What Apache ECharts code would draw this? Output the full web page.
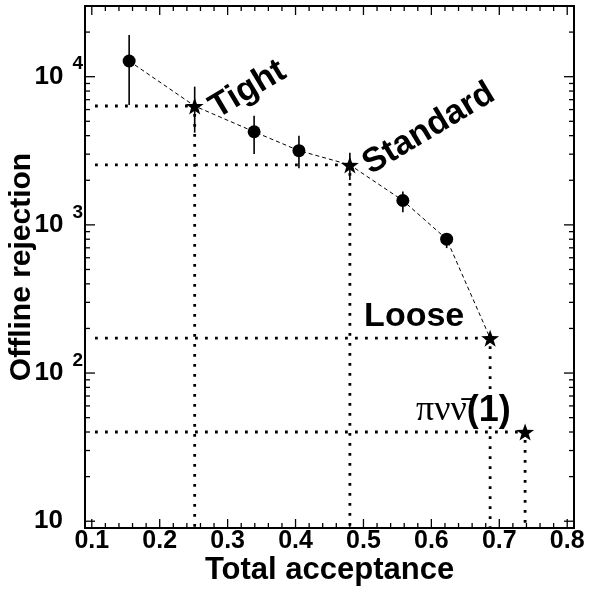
<!DOCTYPE html>
<html>
<head>
<meta charset="utf-8">
<script src="https://cdn.jsdelivr.net/npm/echarts@6/dist/echarts.min.js"></script>
<style>
  html, body { margin: 0; padding: 0; background: #fff; }
  #chart { width: 589px; height: 590px; }
</style>
</head>
<body>
<div id="chart"></div>
<script>
// Offline cut scan: acceptance vs background rejection
const scanAcc   = [0.155, 0.339, 0.405, 0.558, 0.6225];
const scanRej   = [12760, 4250, 3170, 1460, 801];
const scanErrLo = [6440, 3010, 2410, 1218, 697];
const scanErrHi = [19100, 5440, 4000, 1677, 879];

// Named working points
const cutNames  = ['Tight', 'Standard', 'Loose', 'πνν\u0304(1)'];
const cutAcc    = [0.2515, 0.48, 0.6865, 0.738];
const cutRej    = [6340, 2540, 172, 40];
const cutErrLo  = [4190, 2010, null, null];
const cutErrHi  = [8570, 3070, null, null];
const cutOnCurve = [true, true, true, false];

// Axis ticks
const xTickLabels = [0.1, 0.2, 0.3, 0.4, 0.5, 0.6, 0.7, 0.8];
const xMinorTicks = [0.12, 0.14, 0.16, 0.18, 0.22, 0.24, 0.26, 0.28,
                     0.32, 0.34, 0.36, 0.38, 0.42, 0.44, 0.46, 0.48,
                     0.52, 0.54, 0.56, 0.58, 0.62, 0.64, 0.66, 0.68,
                     0.72, 0.74, 0.76, 0.78];
const yTickLabels = [10, 100, 1000, 10000];
const yMinorTicks = [20, 30, 40, 50, 60, 70, 80, 90,
                     200, 300, 400, 500, 600, 700, 800, 900,
                     2000, 3000, 4000, 5000, 6000, 7000, 8000, 9000,
                     20000, 30000];

const X_MIN = 0.09, X_MAX = 0.81;
const Y_MIN = 9, Y_MAX = 30000;
const FONT = '"Liberation Sans", Arial, Helvetica, sans-serif';

// Dashed curve through the scan points and the first three working points
const curve = scanAcc.map((x, i) => [x, scanRej[i]])
  .concat(cutAcc.map((x, i) => [x, cutRej[i], i]).filter(p => cutOnCurve[p[2]]).map(p => [p[0], p[1]]))
  .sort((a, b) => a[0] - b[0]);

const errData = scanAcc.map((x, i) => [x, scanRej[i], scanErrLo[i], scanErrHi[i]])
  .concat(cutAcc.map((x, i) => [x, cutRej[i], cutErrLo[i], cutErrHi[i]]).filter(d => d[2] != null));

const STAR = 'path://M0,-10 L2.35,-3.24 L9.51,-3.09 L3.8,1.24 L5.88,8.09 L0,4 L-5.88,8.09 L-3.8,1.24 L-9.51,-3.09 L-2.35,-3.24 Z';

function tickSeries(values, dir, len) {
  return {
    type: 'custom', silent: true, clip: false, z: 5,
    data: values.map(v => dir === 'x' ? [v, Y_MIN] : [X_MIN, v]),
    renderItem(params, api) {
      const cs = params.coordSys;
      const p = api.coord([api.value(0), api.value(1)]);
      const style = { stroke: '#000', lineWidth: 1.3 };
      if (dir === 'x') {
        const yb = cs.y + cs.height, yt = cs.y;
        return { type: 'group', children: [
          { type: 'line', shape: { x1: p[0], y1: yb, x2: p[0], y2: yb - len }, style },
          { type: 'line', shape: { x1: p[0], y1: yt, x2: p[0], y2: yt + len }, style }
        ]};
      }
      const xl = cs.x, xr = cs.x + cs.width;
      return { type: 'group', children: [
        { type: 'line', shape: { x1: xl, y1: p[1], x2: xl + len, y2: p[1] }, style },
        { type: 'line', shape: { x1: xr, y1: p[1], x2: xr - len, y2: p[1] }, style }
      ]};
    }
  };
}

const chart = echarts.init(document.getElementById('chart'), null, { renderer: 'canvas' });

const option = {
  animation: false,
  backgroundColor: '#fff',
  textStyle: { fontFamily: FONT },
  grid: { left: 85, top: 6, width: 489, height: 522, show: true,
          outerBoundsMode: 'none', containLabel: false,
          borderColor: '#000', borderWidth: 2, backgroundColor: 'transparent' },
  xAxis: {
    type: 'value', min: X_MIN, max: X_MAX, splitNumber: 7,
    name: 'Total acceptance', nameLocation: 'middle', nameGap: 27, nameMoveOverlap: false,
    nameTextStyle: { fontFamily: FONT, fontWeight: 'bold', fontSize: 31, color: '#000' },
    axisLine: { show: false }, axisTick: { show: false }, splitLine: { show: false },
    axisLabel: {
      margin: 1, color: '#000', fontFamily: FONT, fontWeight: 'bold', fontSize: 25,
      showMinLabel: false, showMaxLabel: false,
      formatter: v => {
        const hit = xTickLabels.find(t => Math.abs(t - v) < 1e-6);
        return hit === undefined ? '' : hit.toFixed(1);
      }
    }
  },
  yAxis: {
    type: 'log', logBase: 10, min: Y_MIN, max: Y_MAX,
    name: 'Offline rejection', nameLocation: 'middle', nameRotate: 90, nameGap: 48, nameMoveOverlap: false,
    nameTextStyle: { fontFamily: FONT, fontWeight: 'bold', fontSize: 30, color: '#000' },
    axisLine: { show: false }, axisTick: { show: false }, splitLine: { show: false },
    axisLabel: {
      margin: 2, color: '#000',
      showMinLabel: false, showMaxLabel: false,
      formatter: v => {
        const hit = yTickLabels.find(t => Math.abs(t - v) / t < 1e-6);
        if (hit === undefined) return '';
        const e = Math.round(Math.log10(hit));
        return e === 1 ? '{c|10}' : '{a|10}{s|' + e + '}';
      },
      rich: {
        a: { fontFamily: FONT, fontWeight: 'bold', fontSize: 26, color: '#000', lineHeight: 44, verticalAlign: 'middle' },
        c: { fontFamily: FONT, fontWeight: 'bold', fontSize: 26, color: '#000', lineHeight: 44, verticalAlign: 'middle', padding: [0, 20, 0, 0] },
        s: { fontFamily: FONT, fontWeight: 'bold', fontSize: 19, color: '#000', lineHeight: 19, verticalAlign: 'top', padding: [0, 0, 0, 9] }
      }
    }
  },
  series: [
    tickSeries(xTickLabels, 'x', 9),
    tickSeries(xMinorTicks, 'x', 5),
    tickSeries(yTickLabels, 'y', 10),
    tickSeries(yMinorTicks, 'y', 5),
    {
      // dotted guides from each working point to both axes
      type: 'custom', silent: true, z: 2,
      data: cutAcc.map((x, i) => [x, cutRej[i]]),
      renderItem(params, api) {
        const cs = params.coordSys;
        const p = api.coord([api.value(0), api.value(1)]);
        const style = { stroke: '#000', lineWidth: 2.8, lineDash: [2.8, 7.2], fill: null };
        return { type: 'group', children: [
          { type: 'line', shape: { x1: cs.x + 10, y1: p[1], x2: p[0], y2: p[1] }, style },
          { type: 'line', shape: { x1: p[0], y1: p[1] + 8, x2: p[0], y2: cs.y + cs.height }, style }
        ]};
      }
    },
    {
      type: 'line', data: curve, symbol: 'none', z: 3, silent: true,
      lineStyle: { color: '#000', width: 1, type: [4, 3] }
    },
    {
      // vertical error bars
      type: 'custom', silent: true, z: 4,
      data: errData,
      renderItem(params, api) {
        const lo = api.coord([api.value(0), api.value(2)]);
        const hi = api.coord([api.value(0), api.value(3)]);
        return { type: 'line', shape: { x1: lo[0], y1: lo[1], x2: hi[0], y2: hi[1] },
                 style: { stroke: '#000', lineWidth: 1.6 } };
      }
    },
    {
      type: 'scatter', data: scanAcc.map((x, i) => [x, scanRej[i]]), z: 6, silent: true,
      symbol: 'circle', symbolSize: 13, itemStyle: { color: '#000', opacity: 1 }
    },
    {
      type: 'scatter', data: cutAcc.map((x, i) => [x, cutRej[i]]), z: 6, silent: true,
      symbol: STAR, symbolSize: [18, 17], itemStyle: { color: '#000', opacity: 1 }
    }
  ]
};

chart.setOption(option);

// Working-point names placed next to their stars
const labelLayout = [
  { dx: 24,   dy: 15,  rot: 31, size: 34 },
  { dx: 22,   dy: 12,  rot: 31, size: 34 },
  { dx: -126, dy: -10, rot: 0,  size: 34 },
  { dx: -109, dy: -8,  rot: 0,  size: 36 }
];
const graphics = cutNames.map((name, i) => {
  const p = chart.convertToPixel({ gridIndex: 0 }, [cutAcc[i], cutRej[i]]);
  const L = labelLayout[i];
  const isPnn = i === 3;
  return {
    type: 'text', z: 10, silent: true,
    x: p[0] + L.dx, y: p[1] + L.dy,
    rotation: L.rot * Math.PI / 180,
    style: isPnn ? {
      text: '{g|πνν\u0304}{b|(1)}', x: 0, y: 5,
      textAlign: 'left', textVerticalAlign: 'bottom',
      rich: {
        g: { fontFamily: '"Liberation Serif", "DejaVu Serif", serif', fontSize: L.size, fontWeight: 'normal', fill: '#000', lineHeight: L.size },
        b: { fontFamily: FONT, fontSize: L.size, fontWeight: 'bold', fill: '#000', lineHeight: L.size }
      }
    } : {
      text: name, x: 0, y: 5,
      font: 'bold ' + L.size + 'px ' + FONT, fill: '#000',
      textAlign: 'left', textVerticalAlign: 'bottom'
    }
  };
});
chart.setOption({ graphic: graphics });
</script>
</body>
</html>
